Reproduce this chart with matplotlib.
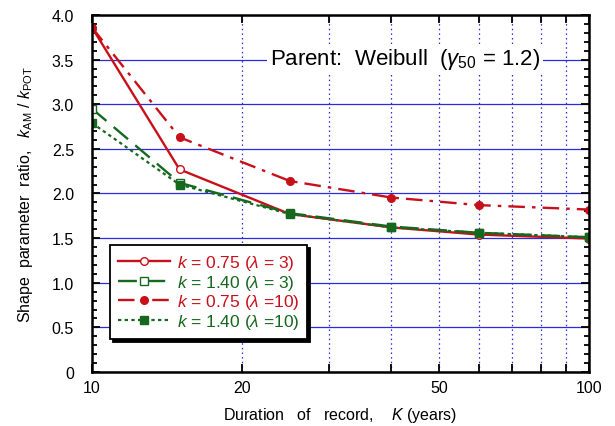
import numpy as np
import matplotlib.pyplot as plt
from matplotlib.ticker import FixedLocator, MultipleLocator, FixedFormatter

plt.rcParams['font.family'] = ['Liberation Sans', 'DejaVu Sans']
plt.rcParams['mathtext.fontset'] = 'custom'
plt.rcParams['mathtext.rm'] = 'Liberation Sans'
plt.rcParams['mathtext.it'] = 'Liberation Sans:italic'

# record length K (years)
K = [10, 15, 25, 40, 60, 100]

# shape parameter ratio k_AM / k_POT
k075_lam3 = [3.86, 2.27, 1.77, 1.62, 1.54, 1.495]
k140_lam3 = [2.95, 2.12, 1.78, 1.63, 1.56, 1.51]
k075_lam10 = [3.86, 2.63, 2.14, 1.955, 1.87, 1.82]
k140_lam10 = [2.79, 2.10, 1.77, 1.62, 1.56, 1.51]

labels = [r'$k$ = 0.75 ($\lambda$ = 3)', r'$k$ = 1.40 ($\lambda$ = 3)',
          r'$k$ = 0.75 ($\lambda$ =10)', r'$k$ = 1.40 ($\lambda$ =10)']

y_ticks = [0, 0.5, 1.0, 1.5, 2.0, 2.5, 3.0, 3.5, 4.0]
y_ticklabels = ['0', '0.5', '1.0', '1.5', '2.0', '2.5', '3.0', '3.5', '4.0']
x_ticks = [10, 20, 50, 100]

red = '#c8101a'
green = '#17681f'
grid_blue = '#2a2ae0'

fig = plt.figure(figsize=(6.15, 4.27), dpi=100)
ax = fig.add_axes([0.1496, 0.1265, 0.8081, 0.836])

ax.plot(K, k075_lam3, color=red, lw=1.7, marker='o', ms=5.5,
        mfc='white', mec=red, mew=1.0, label=labels[0])
ax.plot(K, k140_lam3, color=green, lw=1.7, dashes=(8, 4), marker='s', ms=5.5,
        mfc='white', mec=green, mew=1.0, label=labels[1])
ax.plot(K, k075_lam10, color=red, lw=1.7, dashes=(7, 3, 1.5, 3), marker='o',
        ms=5.5, mfc=red, mec=red, label=labels[2])
ax.plot(K, k140_lam10, color=green, lw=1.6, dashes=(1.5, 1.5), marker='s',
        ms=6, mfc=green, mec=green, label=labels[3])

ax.set_xscale('log')
ax.set_xlim(10, 100)
ax.set_ylim(0, 4.0)

ax.xaxis.set_major_locator(FixedLocator(x_ticks))
ax.xaxis.set_major_formatter(FixedFormatter([str(v) for v in x_ticks]))
ax.xaxis.set_minor_locator(FixedLocator([30, 40, 60, 70, 80, 90]))
ax.xaxis.set_minor_formatter(FixedFormatter([]))
ax.yaxis.set_major_locator(FixedLocator(y_ticks))
ax.yaxis.set_major_formatter(FixedFormatter(y_ticklabels))
ax.yaxis.set_minor_locator(MultipleLocator(0.1))

ax.tick_params(which='both', direction='in', top=True, right=True,
               width=1.3, labelsize=11.5, colors='black')
ax.tick_params(axis='y', which='major', length=6, pad=13)
ax.tick_params(axis='y', which='minor', length=3.6)
ax.tick_params(axis='x', which='both', length=6, pad=6)

for s in ax.spines.values():
    s.set_linewidth(1.8)

ax.grid(axis='y', which='major', color=grid_blue, lw=0.9)
ax.grid(axis='x', which='both', color=grid_blue, lw=0.9, ls=(0, (1.2, 2.5)))
ax.set_axisbelow(True)

ax.text(0.63, 0.877, r'Parent:  Weibull  ($\gamma_{50}$ = 1.2)', transform=ax.transAxes,
        fontsize=16, ha='center', va='center',
        bbox=dict(facecolor='white', edgecolor='none', pad=2))

ax.set_xlabel(r'Duration   of   record,    $K$ (years)', fontsize=11.5, labelpad=7)
ax.set_ylabel(r'Shape  parameter  ratio,   $k_{\rm AM}$ / $k_{\rm POT}$',
              fontsize=11.5, labelpad=12)

leg = ax.legend(loc='lower left', bbox_to_anchor=(0.036, 0.092), borderaxespad=0,
                fancybox=False, shadow={'color': 'black', 'alpha': 1},
                edgecolor='black', framealpha=1, fontsize=12.5, handlelength=3.0,
                labelcolor=[red, green, red, green], handletextpad=0.4,
                labelspacing=0.05, borderpad=0.45)
leg.get_frame().set_linewidth(1.3)

fig.savefig('out.png', dpi=100)
